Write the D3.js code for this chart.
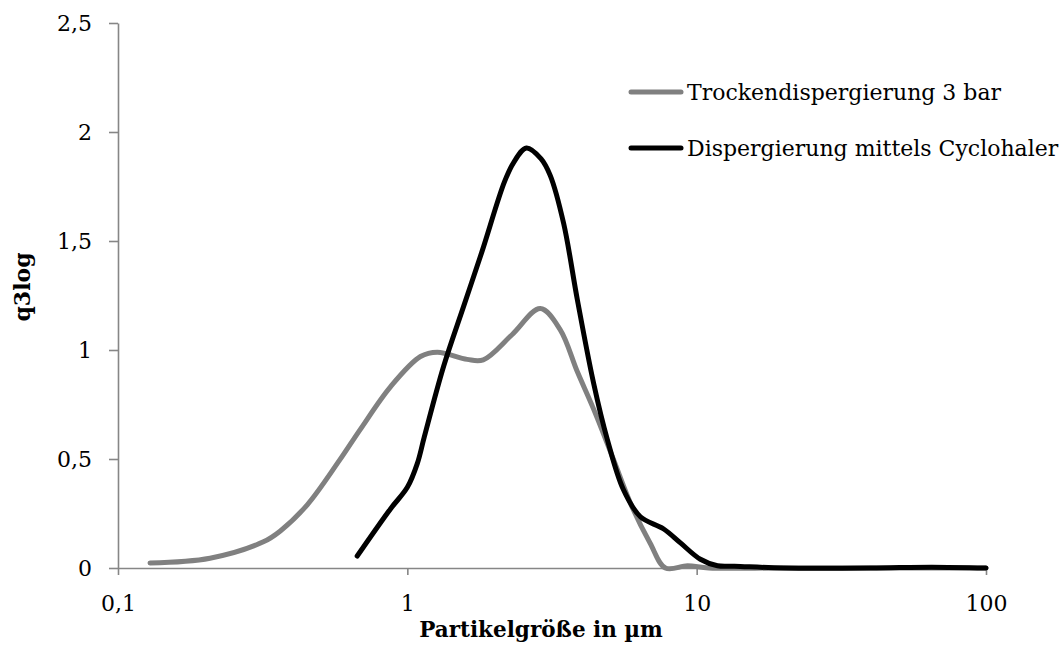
<!DOCTYPE html>
<html>
<head>
<meta charset="utf-8">
<script src="https://cdn.jsdelivr.net/npm/d3@7"></script>
<style>
  html, body { margin: 0; padding: 0; background: #fff; }
  svg { display: block; font-family: "DejaVu Serif", serif; }
</style>
</head>
<body>
<svg id="chart" width="1064" height="645"></svg>
<script>
// Particle size distribution (q3log) for two dispersion methods
const seriesNames = ["Trockendispergierung 3 bar", "Dispergierung mittels Cyclohaler"];

const dryX = [0.129, 0.208, 0.318, 0.364, 0.451, 0.58, 0.687, 0.873, 1.11, 1.27, 1.61, 1.83, 2.3, 2.88, 3.37, 3.87, 4.40, 5.15, 5.98, 6.90, 7.8, 9.3, 11, 20, 50, 100];
const dryY = [0.023, 0.045, 0.12, 0.17, 0.29, 0.49, 0.635, 0.83, 0.97, 0.99, 0.957, 0.955, 1.07, 1.19, 1.095, 0.90, 0.73, 0.50, 0.28, 0.115, 0.0, 0.01, 0, 0, 0, 0];

const cycloX = [0.671, 0.873, 1.0, 1.083, 1.144, 1.335, 1.565, 1.81, 2.164, 2.33, 2.58, 2.9, 3.12, 3.47, 3.87, 4.40, 4.91, 5.58, 6.39, 7.67, 8.79, 10.3, 11.8, 13.5, 20, 40, 65, 100];
const cycloY = [0.055, 0.27, 0.37, 0.48, 0.60, 0.925, 1.20, 1.45, 1.77, 1.86, 1.927, 1.877, 1.80, 1.58, 1.23, 0.85, 0.59, 0.36, 0.235, 0.18, 0.115, 0.04, 0.01, 0.008, 0, 0, 0.004, 0];

const xTicks = [0.1, 1, 10, 100];
const xTickLabels = ["0,1", "1", "10", "100"];
const yTicks = [0, 0.5, 1, 1.5, 2, 2.5];
const yTickLabels = ["0", "0,5", "1", "1,5", "2", "2,5"];

const xTitle = "Partikelgröße in µm";
const yTitle = "q3log";

const svg = d3.select("#chart");
const plotLeft = 118, plotRight = 986, plotTop = 23, plotBottom = 568;

const x = d3.scaleLog().domain([0.1, 100]).range([plotLeft, plotRight]);
const y = d3.scaleLinear().domain([0, 2.5]).range([plotBottom, plotTop]);

const axisColor = "#868686";
const fontSize = 22;

// y axis
const gy = svg.append("g")
  .attr("transform", `translate(${plotLeft},0)`)
  .call(d3.axisLeft(y).tickValues(yTicks)
    .tickFormat((d, i) => yTickLabels[i])
    .tickSize(9).tickSizeOuter(0).tickPadding(17));
// x axis
const gx = svg.append("g")
  .attr("transform", `translate(0,${plotBottom})`)
  .call(d3.axisBottom(x).tickValues(xTicks)
    .tickFormat((d, i) => xTickLabels[i])
    .tickSize(7).tickSizeOuter(0).tickPadding(20));

[gx, gy].forEach(g => {
  g.select(".domain").attr("stroke", axisColor).attr("stroke-width", 1.6);
  g.selectAll(".tick line").attr("stroke", axisColor).attr("stroke-width", 1.6);
  g.selectAll(".tick text")
    .attr("fill", "#000")
    .style("font-family", '"DejaVu Serif", serif')
    .style("font-size", fontSize + "px");
});

// series, smoothed like a spreadsheet "smooth line"
const line = d3.line()
  .x(d => x(d[0]))
  .y(d => Math.min(y(d[1]), plotBottom))
  .curve(d3.curveCatmullRom.alpha(0.5));

const series = [
  { name: seriesNames[0], pts: d3.zip(dryX, dryY), color: "#808080" },
  { name: seriesNames[1], pts: d3.zip(cycloX, cycloY), color: "#000000" }
];

svg.append("g").selectAll("path")
  .data(series)
  .join("path")
  .attr("d", d => line(d.pts))
  .attr("fill", "none")
  .attr("stroke", d => d.color)
  .attr("stroke-width", 5)
  .attr("stroke-linecap", "round")
  .attr("stroke-linejoin", "round");

// legend
const legend = svg.append("g");
series.forEach((s, i) => {
  const ly = 92 + i * 56;
  legend.append("line")
    .attr("x1", 631).attr("x2", 681)
    .attr("y1", ly).attr("y2", ly)
    .attr("stroke", s.color)
    .attr("stroke-width", 5)
    .attr("stroke-linecap", "round");
  legend.append("text")
    .attr("x", 687).attr("y", ly)
    .attr("dy", "0.36em")
    .style("font-size", fontSize + "px")
    .text(s.name);
});

// axis titles
svg.append("text")
  .attr("x", 541)
  .attr("y", 637)
  .attr("text-anchor", "middle")
  .style("font-size", "21.5px")
  .style("font-weight", "bold")
  .text(xTitle);

svg.append("text")
  .attr("transform", "translate(30,287) rotate(-90)")
  .attr("text-anchor", "middle")
  .style("font-size", "22px")
  .style("font-weight", "bold")
  .text(yTitle);
</script>
</body>
</html>
